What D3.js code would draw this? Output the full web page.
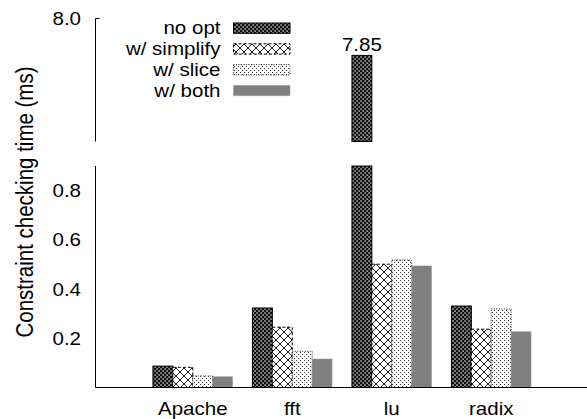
<!DOCTYPE html>
<html>
<head>
<meta charset="utf-8">
<script src="https://cdn.jsdelivr.net/npm/d3@7"></script>
<style>
  body { margin: 0; background: #fff; }
  text { font-family: "Liberation Sans", Arial, sans-serif; fill: #000; }
</style>
</head>
<body>
<svg id="chart" width="587" height="419"></svg>
<script>
// data
const categories = ['Apache', 'fft', 'lu', 'radix'];
const seriesNames = ['no opt', 'w/ simplify', 'w/ slice', 'w/ both'];
const noOpt    = [0.087, 0.323, 7.85, 0.331];
const simplify = [0.082, 0.245, 0.501, 0.237];
const slice    = [0.047, 0.147, 0.518, 0.319];
const both     = [0.044, 0.116, 0.494, 0.227];
const lowTicks = [0.2, 0.4, 0.6, 0.8];
const highTicks = [8.0];

const seriesVals = [noOpt, simplify, slice, both];

const svg = d3.select('#chart');
const fs = 18;       // font size
const stretch = 1.14; // the reference is stretched a bit horizontally

// text helper, keeps the horizontal stretch
function label(g, x, y, str, anchor, extra = '', size = fs) {
  return g.append('text')
    .attr('transform', `translate(${x}, ${y}) scale(${stretch}, 1) ${extra}`)
    .style('font-size', `${size}px`)
    .style('text-anchor', anchor)
    .text(str);
}

// patterns
const defs = svg.append('defs');

let p0 = defs.append('pattern').attr('id', 'pNoOpt')
  .attr('patternUnits', 'userSpaceOnUse').attr('width', 4).attr('height', 4);
p0.append('rect').attr('width', 4).attr('height', 4).style('fill', '#111');
p0.append('rect').attr('x', 0.4).attr('y', 0.4).attr('width', 1.3).attr('height', 1.3).style('fill', '#fff');
p0.append('rect').attr('x', 2.4).attr('y', 2.4).attr('width', 1.3).attr('height', 1.3).style('fill', '#fff');

let p1 = defs.append('pattern').attr('id', 'pSimplify')
  .attr('patternUnits', 'userSpaceOnUse').attr('width', 8).attr('height', 8);
p1.append('rect').attr('width', 8).attr('height', 8).style('fill', '#fff');
p1.append('path').attr('d', 'M0,0L8,8M8,0L0,8')
  .style('stroke', '#000').style('stroke-width', 0.9);

let p2 = defs.append('pattern').attr('id', 'pSlice')
  .attr('patternUnits', 'userSpaceOnUse').attr('width', 4).attr('height', 4);
p2.append('rect').attr('width', 4).attr('height', 4).style('fill', '#fff');
p2.append('rect').attr('x', 0).attr('y', 0).attr('width', 1).attr('height', 1).style('fill', '#333');
p2.append('rect').attr('x', 2).attr('y', 2).attr('width', 1).attr('height', 1).style('fill', '#333');

const fills = ['url(#pNoOpt)', 'url(#pSimplify)', 'url(#pSlice)', '#808080'];
const strokes = ['#000', '#000', '#222', '#999'];
const dashes = ['none', '3,2', '1,1.5', '1,1'];

// scales
const x = d3.scaleBand()
  .domain(categories)
  .range([143, 541])
  .paddingInner(0.2)
  .paddingOuter(0.1);

const xs = d3.scaleBand()
  .domain(d3.range(seriesNames.length))
  .range([0, x.bandwidth()]);

const yLow = d3.scaleLinear().domain([0, 0.9]).range([387.5, 166]);
const yHigh = d3.scaleLinear().domain([7.5, 8.0]).range([141.5, 18.5]);

// bars
const bars = [];
categories.forEach((c, ci) => {
  seriesVals.forEach((vals, si) => bars.push({cat: c, s: si, v: vals[ci]}));
});

const barG = svg.append('g').classed('bars', true);

// lower panel part
barG.selectAll('rect.low')
  .data(bars)
  .enter()
  .append('rect')
  .classed('low', true)
  .attr('x', d => x(d.cat) + xs(d.s))
  .attr('width', xs.bandwidth())
  .attr('y', d => yLow(Math.min(d.v, 0.9)))
  .attr('height', d => yLow(0) - yLow(Math.min(d.v, 0.9)))
  .style('fill', d => fills[d.s])
  .style('stroke', d => strokes[d.s])
  .style('stroke-width', 1)
  .style('stroke-dasharray', d => dashes[d.s]);

// upper panel part, only for values that break the axis
const tall = bars.filter(d => d.v > 7.5);
barG.selectAll('rect.high')
  .data(tall)
  .enter()
  .append('rect')
  .classed('high', true)
  .attr('x', d => x(d.cat) + xs(d.s))
  .attr('width', xs.bandwidth())
  .attr('y', d => yHigh(d.v))
  .attr('height', d => yHigh(7.5) - yHigh(d.v))
  .style('fill', d => fills[d.s])
  .style('stroke', d => strokes[d.s])
  .style('stroke-width', 1)
  .style('stroke-dasharray', d => dashes[d.s]);

tall.forEach(d => {
  label(barG, x(d.cat) + xs(d.s) + xs.bandwidth() / 2, yHigh(d.v) - 4, d.v.toFixed(2), 'middle');
});

// axes
const axX = 95.5;
const axG = svg.append('g').classed('axes', true);

axG.append('line')
  .attr('x1', axX).attr('x2', axX)
  .attr('y1', yHigh(8.0)).attr('y2', yHigh(7.5))
  .style('stroke', '#000');
axG.append('line')
  .attr('x1', axX).attr('x2', axX)
  .attr('y1', yLow(0.9)).attr('y2', yLow(0))
  .style('stroke', '#000');
axG.append('line')
  .attr('x1', axX).attr('x2', 587)
  .attr('y1', yLow(0)).attr('y2', yLow(0))
  .style('stroke', '#000');

highTicks.forEach(t => {
  axG.append('line')
    .attr('x1', axX).attr('x2', axX + 4)
    .attr('y1', yHigh(t)).attr('y2', yHigh(t))
    .style('stroke', '#000');
  label(axG, 81, yHigh(t) + 6.5, d3.format('.1f')(t), 'end');
});

lowTicks.forEach(t => {
  label(axG, 81, yLow(t) + 6.5, d3.format('.1f')(t), 'end');
});

categories.forEach(c => {
  label(axG, x(c) + x.bandwidth() / 2, 414.5, c, 'middle');
});

label(axG, 33, 202, 'Constraint checking time (ms)', 'middle', 'rotate(-90)', 20.5);

// legend
const legG = svg.append('g').classed('legend', true);
seriesNames.forEach((name, i) => {
  let yy = 33.3 + i * 20.8;
  label(legG, 220.5, yy + 1, name, 'end');
  legG.append('rect')
    .attr('x', 233.5)
    .attr('y', yy - 10.3)
    .attr('width', 56.5)
    .attr('height', 10.3)
    .style('fill', fills[i])
    .style('stroke', strokes[i])
    .style('stroke-width', 1)
    .style('stroke-dasharray', dashes[i]);
});
</script>
</body>
</html>
